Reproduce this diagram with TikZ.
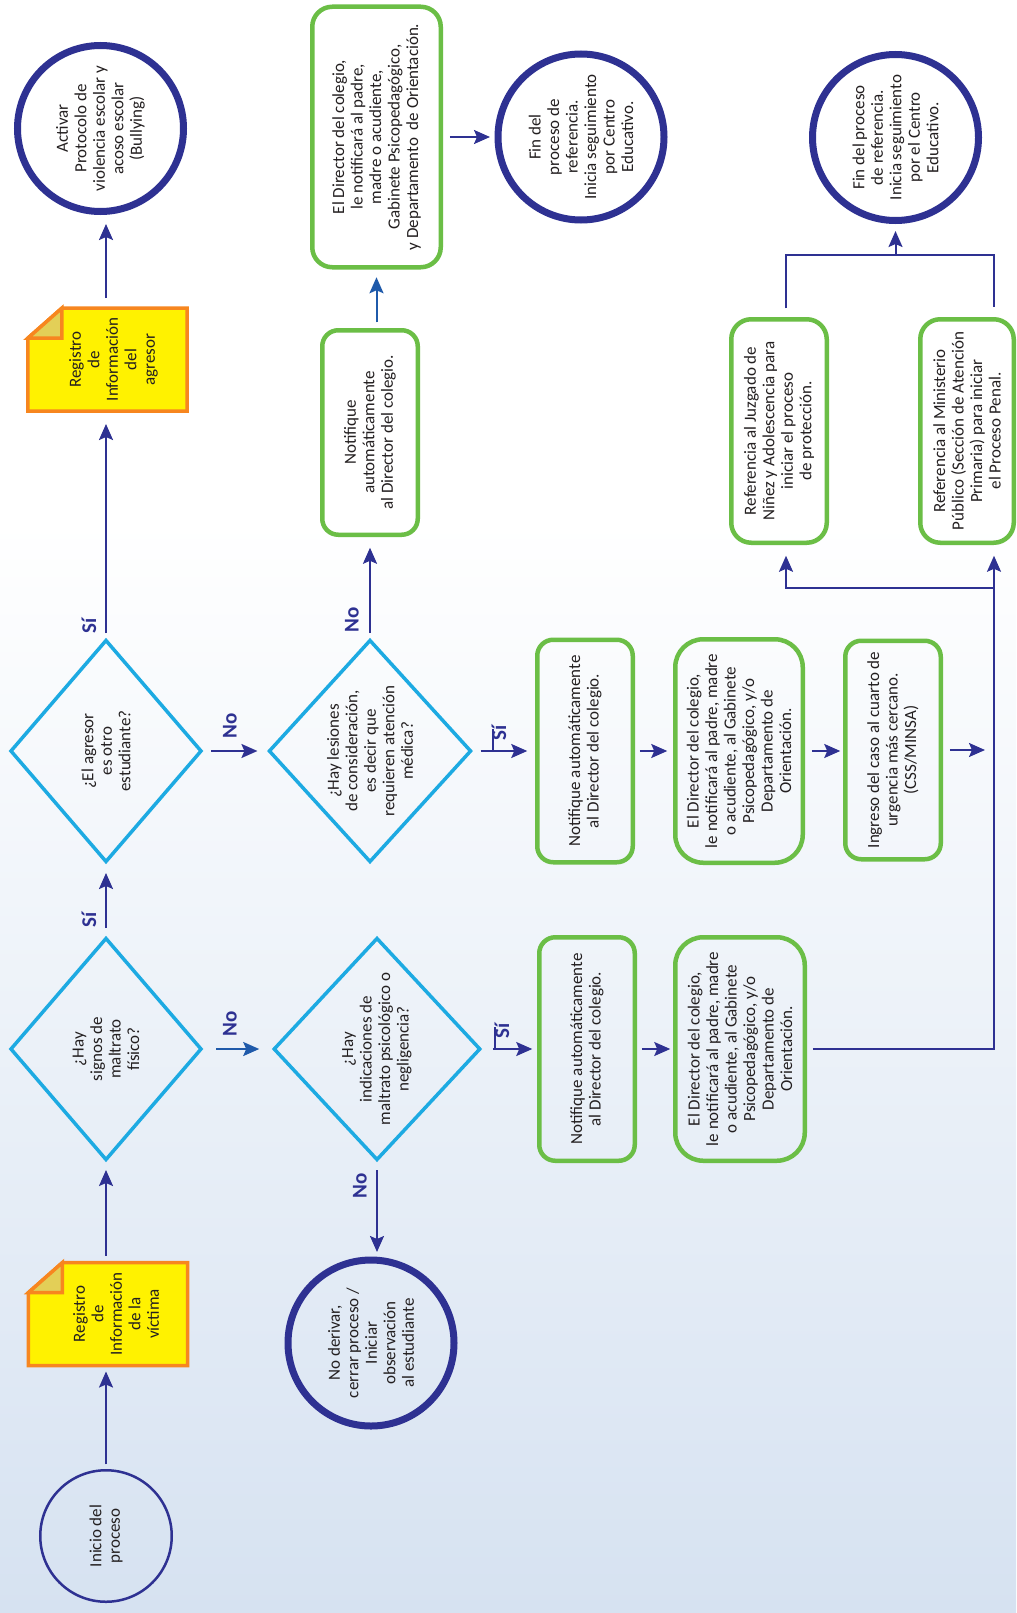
\documentclass[tikz,border=0pt]{standalone}
\usepackage{fontspec}
\setmainfont{Carlito}
\usetikzlibrary{shapes.geometric,arrows.meta,calc}

\definecolor{navy}{HTML}{2E3192}
\definecolor{linkblue}{HTML}{1F5AAA}
\definecolor{qcyan}{HTML}{1DAAE2}
\definecolor{boxgreen}{HTML}{6BBE46}
\definecolor{noteyellow}{HTML}{FFF200}
\definecolor{noteorange}{HTML}{F7861F}
\definecolor{notefoldc}{HTML}{E3CF57}
\definecolor{textc}{HTML}{231F20}
\definecolor{bgA}{HTML}{F2F6FB}
\definecolor{bgB}{HTML}{D6E2F1}

\begin{document}
\begin{tikzpicture}[x=1bp, y=-1bp,
  every node/.style={rotate=90, align=center, text=textc, outer sep=0pt,
    font=\fontsize{17bp}{18.5bp}\selectfont},
  startc/.style={circle, draw=navy, line width=2.5bp, inner sep=0pt, minimum size=131.5bp},
  endc/.style={circle, draw=navy, line width=7bp, inner sep=0pt, minimum size=166bp},
  quest/.style={diamond, draw=qcyan, line width=3.5bp, inner sep=-4bp,
    minimum width=221bp, minimum height=190bp},
  stepbox/.style={rectangle, draw=boxgreen, line width=4.5bp, inner sep=2bp,
    rounded corners=16bp},
  wide/.style={rounded corners=28bp},
  notearea/.style={rectangle, inner sep=0pt, minimum width=103bp, minimum height=159bp},
  notebox/.style={draw=noteorange, fill=noteyellow, line width=3.5bp, line join=miter},
  notefold/.style={draw=noteorange, fill=notefoldc, line width=3.5bp, line join=miter},
  lbl/.style={font=\fontsize{21bp}{21bp}\selectfont\bfseries, text=navy, inner sep=0pt},
  conn/.style={draw=navy, line width=2bp},
  arr/.style={conn, -{Stealth[length=16bp, width=14bp, inset=3bp]}},
]

% page background
\fill[white] (0,0) rectangle (1016,1613);
\shade[top color=white, middle color=bgA, bottom color=bgB] (0,520) rectangle (1016,1613);
\useasboundingbox (0,0) rectangle (1016,1613);

% ---- first column
\node[startc] (start) at (106,1536) {Inicio del\\proceso};

\node[notearea] (noteV) at (108,1314) {};
\draw[notebox] ($(noteV.north east)+(0,30)$) -- ($(noteV.north east)+(34,0)$)
  -- (noteV.south east) -- (noteV.south west) -- (noteV.north west) -- cycle;
\draw[notefold] ($(noteV.north east)+(0,30)$) -- ($(noteV.north east)+(34,0)$)
  -- ($(noteV.north east)+(34,30)$) -- cycle;
\node (noteVt) at ($(noteV.center)+(8,0)$) {Registro\\de\\Información\\de la\\víctima};

\node[quest] (d1) at (106,1049) {¿Hay\\signos de\\maltrato\\físico?};
\node[quest] (d2) at (106,751) {¿El agresor\\es otro\\estudiante?};

\node[notearea] (noteA) at (107.5,359.5) {};
\draw[notebox] ($(noteA.north east)+(0,30)$) -- ($(noteA.north east)+(34,0)$)
  -- (noteA.south east) -- (noteA.south west) -- (noteA.north west) -- cycle;
\draw[notefold] ($(noteA.north east)+(0,30)$) -- ($(noteA.north east)+(34,0)$)
  -- ($(noteA.north east)+(34,30)$) -- cycle;
\node (noteAt) at ($(noteA.center)+(6,0)$) {Registro\\de\\Información\\del\\agresor};

\node[endc] (act) at (100.5,128.5) {Activar\\Protocolo de\\violencia escolar y\\acoso escolar\\(Bullying)};

% ---- second column
\node[quest] (psico) at (377,1049) {¿Hay\\indicaciones de\\maltrato psicológico o\\negligencia?};
\node[endc] (noC) at (371,1343) {No derivar,\\cerrar proceso /\\Iniciar\\observación\\al estudiante};
\node[quest] (d3) at (370,751) {¿Hay lesiones\\de consideración,\\es decir que\\requieren atención\\médica?};
\node[stepbox, minimum width=204.5bp, minimum height=95.5bp] (notifA) at (370,432.5)
  {Notifique\\automáticamente\\al Director del colegio.};
\node[stepbox, rounded corners=20bp, minimum width=260.5bp, minimum height=128.5bp] (dirA) at (376.5,137)
  {El Director del colegio,\\le notificará al padre,\\madre o acudiente,\\Gabinete Psicopedagógico,\\y Departamento~ de Orientación.};
\node[endc] (fin1) at (581,137) {Fin del\\proceso de\\referencia.\\Inicia seguimiento\\por Centro\\Educativo.};

% ---- injuries branch
\node[stepbox, minimum width=222.5bp, minimum height=95.5bp] (L1) at (585,751)
  {Notifique automáticamente\\al Director del colegio.};
\node[stepbox, wide, minimum width=223.5bp, minimum height=127.5bp] (L2) at (739,751)
  {El Director del colegio,\\le notificará al padre, madre\\o acudiente, al Gabinete\\Psicopedagógico, y/o\\Departamento de\\Orientación.};
\node[stepbox, minimum width=218.5bp, minimum height=95.5bp] (L3) at (893,750)
  {Ingreso del caso al cuarto de\\urgencia más cercano.\\(CSS/MINSA)};

% ---- psychological branch
\node[stepbox, minimum width=223.5bp, minimum height=95.5bp] (P1) at (587,1049)
  {Notifique automáticamente\\al Director del colegio.};
\node[stepbox, wide, minimum width=223.5bp, minimum height=129.5bp] (P2) at (740,1049)
  {El Director del colegio,\\le notificará al padre, madre\\o acudiente, al Gabinete\\Psicopedagógico, y/o\\Departamento de\\Orientación.};

% ---- referrals
\node[stepbox, rounded corners=20bp, minimum width=223.5bp, minimum height=95.5bp] (J) at (779,431)
  {Referencia al Juzgado de\\Niñez y Adolescencia para\\iniciar el proceso\\de protección.};
\node[stepbox, rounded corners=20bp, minimum width=223.5bp, minimum height=93.5bp] (M) at (967,431)
  {Referencia al Ministerio\\Público (Sección de Atención\\Primaria) para iniciar\\el Proceso Penal.};
\node[endc] (fin2) at (895.5,137.5) {Fin del proceso\\de referencia.\\Inicia seguimiento\\por el Centro\\Educativo.};

% junction points of the right-hand routing
\coordinate (mx) at (994,588);
\coordinate (jx) at (786,588);
\coordinate (topj) at (895.5,255);

% ---- connectors
\draw[arr, shorten <=6bp, shorten >=6bp] (start.east) -- (start.east |- noteV.west);
\draw[arr, shorten <=7bp, shorten >=10.5bp] (noteV.east -| d1.west) -- (d1.west);
\draw[arr, shorten <=10.5bp, shorten >=11.5bp] (d1.east) -- (d2.west);
\draw[arr, shorten <=7.5bp, shorten >=13bp] (d2.east) -- (d2.east |- noteA.west);
\draw[arr, shorten <=10bp, shorten >=12.5bp] (noteA.east -| d2.east) -- (d2.east |- act.west);

\draw[arr, draw=linkblue, shorten <=15bp, shorten >=15bp] (d1.south) -- (psico.north);
\draw[arr, shorten <=10bp, shorten >=12bp] (d2.south) -- (d3.north);
\draw[arr, shorten <=7.5bp, shorten >=13bp] (d3.east) -- (notifA.west);
\draw[arr, draw=linkblue, shorten <=8bp, shorten >=10bp] (notifA.east -| dirA.west) -- (dirA.west);
\draw[arr, shorten <=9bp, shorten >=8bp] (dirA.south) -- (fin1.north);
\draw[arr, shorten <=10.5bp, shorten >=8bp] (psico.west) -- (psico.west |- noC.east);

\draw[arr, shorten <=10bp, shorten >=10bp] (d3.south) -- (L1.north);
\draw[conn] ($(d3.south)+(22,0)$) -- ++(0,-22);
\draw[arr, shorten <=7bp, shorten >=8bp] (L1.south) -- (L2.north);
\draw[arr, shorten <=9bp, shorten >=5bp] (L2.south) -- (L2.south -| L3.north);
\draw[arr, shorten <=9bp, shorten >=9bp] (L3.south) -- (L3.south -| mx);

\draw[arr, shorten <=13bp, shorten >=7bp] (psico.south) -- (P1.north);
\draw[conn] ($(psico.south)+(15,0)$) -- ++(0,-22);
\draw[arr, shorten <=7bp, shorten >=5bp] (P1.south) -- (P2.north);
\draw[arr, shorten <=8bp, shorten >=13bp] (P2.south) -| (mx |- M.west);
\draw[arr, shorten >=13bp] (mx) -- (jx) -- (jx |- J.west);

\draw[conn, shorten <=11bp, shorten >=12bp] (jx |- J.east) -- (jx |- topj) -- (mx |- topj) -- (mx |- M.east);
\draw[arr, shorten >=10.5bp] (topj) -- (fin2.west);

% ---- branch labels
\node[lbl] (s1) at (89,920) {Sí};
\node[lbl] (s2) at (89,626) {Sí};
\node[lbl] (n1) at (230,1024) {No};
\node[lbl] (n2) at (230,726) {No};
\node[lbl] (n3) at (352,620) {No};
\node[lbl] (n4) at (360,1186) {No};
\node[lbl] (s3) at (499,733) {Sí};
\node[lbl] (s4) at (502,1031) {Sí};

\end{tikzpicture}
\end{document}
